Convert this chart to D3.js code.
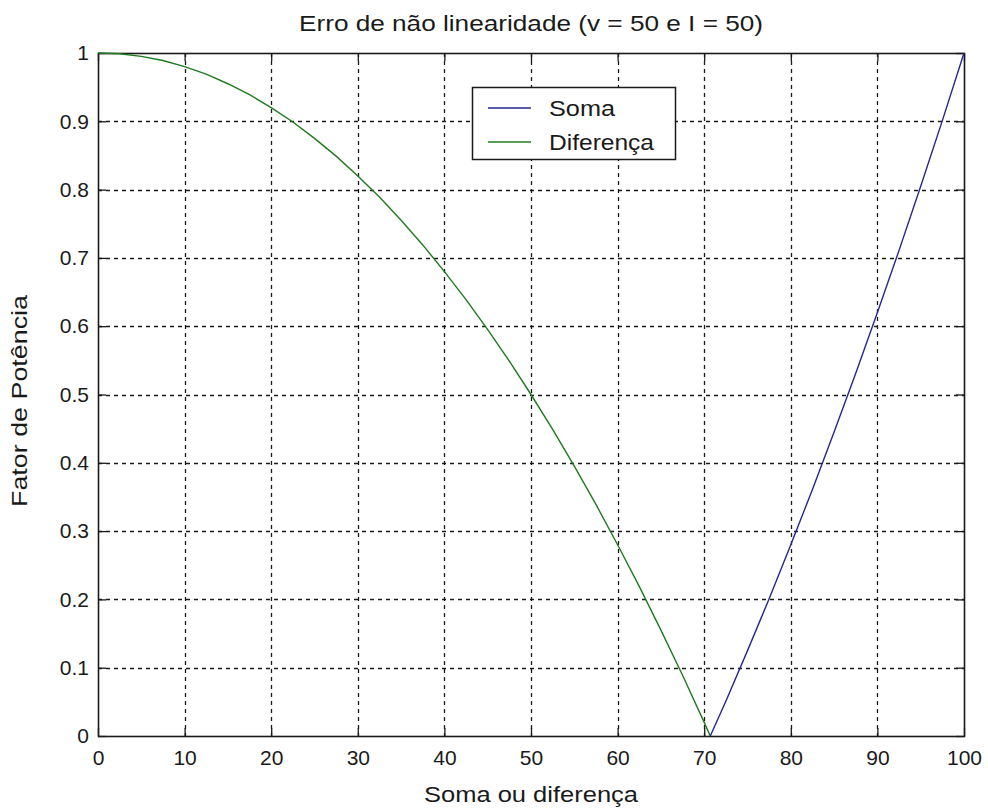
<!DOCTYPE html>
<html>
<head>
<meta charset="utf-8">
<script src="https://cdn.jsdelivr.net/npm/d3@7"></script>
<style>
  html, body { margin: 0; padding: 0; background: #ffffff; }
  svg { display: block; }
  text { font-family: "Liberation Sans", Arial, sans-serif; fill: #1a1a1a; }
</style>
</head>
<body>
<svg id="chart" width="988" height="810"></svg>
<script>
// Power factor vs. sum / difference (non-linearity error)
const chartTitle = "Erro de não linearidade (v = 50 e I = 50)";
const xLabel = "Soma ou diferença";
const yLabel = "Fator de Potência";

const xTicks = [0, 10, 20, 30, 40, 50, 60, 70, 80, 90, 100];
const yTicks = [0, 0.1, 0.2, 0.3, 0.4, 0.5, 0.6, 0.7, 0.8, 0.9, 1];

const seriesNames = ["Soma", "Diferença"];
const seriesColors = ["#26268e", "#1f7a1f"];

// "Diferença" curve
const difX = [0, 2.5, 5, 7.5, 10, 12.5, 15, 17.5, 20, 22.5, 25, 27.5, 30, 32.5, 35, 37.5,
              40, 42.5, 45, 47.5, 50, 52.5, 55, 57.5, 60, 62.5, 65, 67.5, 70, 70.7];
const difY = [1, 0.999, 0.995, 0.989, 0.980, 0.969, 0.955, 0.939, 0.920, 0.899, 0.875, 0.849,
              0.820, 0.789, 0.755, 0.719, 0.680, 0.639, 0.595, 0.549, 0.500, 0.449, 0.395,
              0.339, 0.280, 0.219, 0.155, 0.089, 0.020, 0];

// "Soma" curve
const somX = [70.7, 72.5, 75, 77.5, 80, 82.5, 85, 87.5, 90, 92.5, 95, 97.5, 100];
const somY = [0, 0.051, 0.125, 0.201, 0.280, 0.361, 0.445, 0.531, 0.620, 0.711, 0.805, 0.901, 1.000];

const W = 988, H = 810;
const margin = { top: 53, right: 24, bottom: 74, left: 98 };
const iw = W - margin.left - margin.right;
const ih = H - margin.top - margin.bottom;

const svg = d3.select("#chart");
svg.append("rect").attr("width", W).attr("height", H).attr("fill", "#ffffff");

const x = d3.scaleLinear().domain([0, 100]).range([0, iw]);
const y = d3.scaleLinear().domain([0, 1]).range([ih, 0]);

const g = svg.append("g").attr("transform", `translate(${margin.left},${margin.top})`);

// Dashed grid
const grid = g.append("g").attr("stroke", "#1a1a1a").attr("stroke-width", 1.3)
  .attr("stroke-dasharray", "4,4");
grid.selectAll("line.gx").data(xTicks.slice(1, -1)).join("line")
  .attr("x1", d => Math.round(x(d)) + 0.5).attr("x2", d => Math.round(x(d)) + 0.5)
  .attr("y1", 0).attr("y2", ih);
grid.selectAll("line.gy").data(yTicks.slice(1, -1)).join("line")
  .attr("y1", d => Math.round(y(d)) + 0.5).attr("y2", d => Math.round(y(d)) + 0.5)
  .attr("x1", 0).attr("x2", iw);

// Axes with inward ticks on all four sides
const fontSize = 21;
const labelSize = 22;
const styleAxis = (sel) => {
  sel.select(".domain").remove();
  sel.selectAll(".tick line").attr("stroke", "#1a1a1a").attr("stroke-width", 1.3);
  sel.selectAll(".tick text").attr("font-size", fontSize).attr("fill", "#1a1a1a")
    .attr("font-family", "Liberation Sans, Arial, sans-serif");
};

g.append("g").attr("transform", `translate(0,${ih})`)
  .call(d3.axisBottom(x).tickValues(xTicks).tickFormat(d3.format("d")).tickSizeInner(-8).tickPadding(14))
  .call(styleAxis);
g.append("g")
  .call(d3.axisLeft(y).tickValues(yTicks).tickFormat(d => d === 0 || d === 1 ? String(d) : d3.format(".1f")(d)).tickSizeInner(-8).tickPadding(9))
  .call(styleAxis);
g.append("g")
  .call(d3.axisTop(x).tickValues(xTicks).tickFormat("").tickSizeInner(-8))
  .call(styleAxis);
g.append("g").attr("transform", `translate(${iw},0)`)
  .call(d3.axisRight(y).tickValues(yTicks).tickFormat("").tickSizeInner(-8))
  .call(styleAxis);

// Plot box
g.append("rect").attr("x", 0.5).attr("y", 0.5).attr("width", iw).attr("height", ih)
  .attr("fill", "none").attr("stroke", "#1a1a1a").attr("stroke-width", 1.6);

// Curves
const line = d3.line().x(d => x(d[0])).y(d => y(d[1]));
const somData = somX.map((v, i) => [v, somY[i]]);
const difData = difX.map((v, i) => [v, difY[i]]);

g.append("path").datum(difData).attr("d", line)
  .attr("fill", "none").attr("stroke", seriesColors[1]).attr("stroke-width", 1.4);
g.append("path").datum(somData).attr("d", line)
  .attr("fill", "none").attr("stroke", seriesColors[0]).attr("stroke-width", 1.4);

// Legend
const legendTextWidths = [66, 105];
const lg = svg.append("g").attr("transform", "translate(472,87)");
lg.append("rect").attr("x", 0.5).attr("y", 0.5).attr("width", 203).attr("height", 72)
  .attr("fill", "#ffffff").attr("stroke", "#1a1a1a").attr("stroke-width", 1.5);
seriesNames.forEach((name, i) => {
  const ly = 21 + i * 34;
  lg.append("line").attr("x1", 16).attr("x2", 59).attr("y1", ly).attr("y2", ly)
    .attr("stroke", seriesColors[i]).attr("stroke-width", 1.6);
  lg.append("text").attr("x", 77).attr("y", ly + 8).attr("font-size", labelSize)
    .attr("textLength", legendTextWidths[i]).attr("lengthAdjust", "spacingAndGlyphs").text(name);
});

// Title and axis labels
svg.append("text").attr("x", margin.left + iw / 2).attr("y", 31)
  .attr("text-anchor", "middle").attr("font-size", labelSize)
  .attr("textLength", 464).attr("lengthAdjust", "spacingAndGlyphs").text(chartTitle);
svg.append("text").attr("x", margin.left + iw / 2).attr("y", 802)
  .attr("text-anchor", "middle").attr("font-size", labelSize)
  .attr("textLength", 214).attr("lengthAdjust", "spacingAndGlyphs").text(xLabel);
svg.append("text").attr("transform", `translate(27,${401}) rotate(-90)`)
  .attr("text-anchor", "middle").attr("font-size", labelSize)
  .attr("textLength", 212).attr("lengthAdjust", "spacingAndGlyphs").text(yLabel);
</script>
</body>
</html>
